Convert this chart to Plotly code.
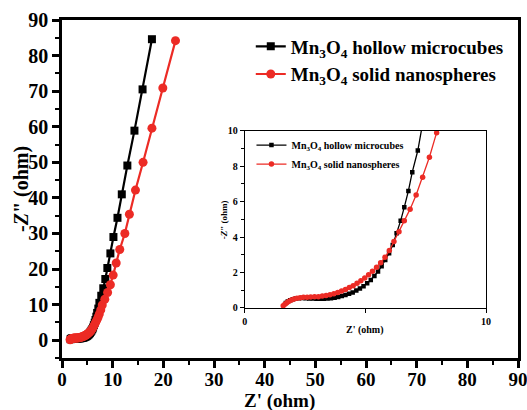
import plotly.graph_objects as go

# Mn3O4 hollow microcubes (black squares)
hollow_zre = [1.70, 1.78, 1.88, 1.99, 2.11, 2.24, 2.38, 2.52, 2.67, 2.82, 2.97, 3.12, 3.27, 3.42,
              3.57, 3.72, 3.87, 4.02, 4.17, 4.32, 4.47, 4.62, 4.77, 4.92, 5.07, 5.22, 5.37, 5.52,
              5.67, 5.82, 5.98, 6.13, 6.29, 6.46, 6.61, 6.78, 6.94, 7.17, 7.38, 7.75, 8.15, 8.55,
              8.95, 9.55, 10.15, 10.95, 11.8, 12.9, 14.3, 15.9, 17.75]
hollow_zim = [0.28, 0.36, 0.43, 0.49, 0.53, 0.55, 0.56, 0.55, 0.54, 0.53, 0.52, 0.52, 0.52, 0.53,
              0.55, 0.58, 0.62, 0.67, 0.73, 0.80, 0.88, 0.98, 1.10, 1.23, 1.39, 1.58, 1.80, 2.06,
              2.36, 2.71, 3.09, 3.56, 4.22, 4.93, 5.69, 6.61, 7.67, 8.89, 10.5, 12.5, 14.6, 17.2,
              20.3, 24.4, 29.0, 34.4, 41.0, 49.1, 58.9, 70.5, 84.6]

# Mn3O4 solid nanospheres (red circles)
solid_zre = [1.59, 1.66, 1.74, 1.83, 1.93, 2.04, 2.16, 2.29, 2.43, 2.58, 2.73, 2.89, 3.05, 3.21,
             3.37, 3.53, 3.69, 3.85, 4.01, 4.17, 4.33, 4.49, 4.65, 4.81, 4.97, 5.13, 5.29, 5.46,
             5.63, 5.81, 5.99, 6.18, 6.39, 6.61, 6.85, 7.10, 7.37, 7.65, 7.95, 8.45, 9.0, 9.55,
             10.1, 10.7, 11.4, 12.4, 13.3, 14.5, 16.0, 17.75, 19.9, 22.4]
solid_zim = [0.13, 0.21, 0.30, 0.38, 0.45, 0.50, 0.55, 0.58, 0.60, 0.61, 0.62, 0.63, 0.64, 0.67,
             0.70, 0.75, 0.81, 0.88, 0.96, 1.05, 1.15, 1.26, 1.39, 1.53, 1.69, 1.87, 2.07, 2.30,
             2.56, 2.86, 3.24, 3.75, 4.31, 4.93, 5.58, 6.38, 7.38, 8.51, 9.90, 11.5, 13.4, 15.6,
             18.3, 21.7, 25.5, 30.0, 35.4, 42.2, 50.0, 59.6, 70.9, 84.2]

series_names = ["Mn<sub>3</sub>O<sub>4</sub> hollow microcubes",
                "Mn<sub>3</sub>O<sub>4</sub> solid nanospheres"]

FONT = "Liberation Serif"
BLACK = "#000000"
RED = "#ec2b25"

fig = go.Figure()

# main traces
fig.add_trace(go.Scatter(x=hollow_zre, y=hollow_zim, mode="lines+markers", name=series_names[0],
                         line=dict(color=BLACK, width=2.2),
                         marker=dict(symbol="square", size=8, color=BLACK),
                         legend="legend", legendgroup="a"))
fig.add_trace(go.Scatter(x=solid_zre, y=solid_zim, mode="lines+markers", name=series_names[1],
                         line=dict(color=RED, width=2.2),
                         marker=dict(symbol="circle", size=9, color=RED),
                         legend="legend", legendgroup="b"))

# inset traces
fig.add_trace(go.Scatter(x=hollow_zre, y=hollow_zim, mode="lines+markers", name=series_names[0],
                         xaxis="x2", yaxis="y2",
                         line=dict(color=BLACK, width=1.3),
                         marker=dict(symbol="square", size=4.5, color=BLACK),
                         legend="legend2", legendgroup="c"))
fig.add_trace(go.Scatter(x=solid_zre, y=solid_zim, mode="lines+markers", name=series_names[1],
                         xaxis="x2", yaxis="y2",
                         line=dict(color=RED, width=1.3),
                         marker=dict(symbol="circle", size=5.5, color=RED),
                         legend="legend2", legendgroup="d"))

axis_common = dict(showline=True, linecolor=BLACK, mirror=True, showgrid=False, zeroline=False,
                   ticks="outside", tickcolor=BLACK, automargin=False, ticklabeloverflow="allow")

fig.update_layout(
    width=527, height=410,
    margin=dict(l=62, r=9, t=20, b=52),
    paper_bgcolor="white", plot_bgcolor="white",
    font=dict(family=FONT, color=BLACK, weight="bold"),
    xaxis=dict(**axis_common, range=[0, 90], dtick=10, linewidth=2.5, ticklen=7, tickwidth=2.5,
               ticklabelstandoff=-5,
               minor=dict(dtick=5, ticks="outside", ticklen=4, tickwidth=2, tickcolor=BLACK),
               tickfont=dict(family=FONT, size=19, weight="bold")),
    yaxis=dict(**axis_common, range=[-5, 90], tickvals=[0, 10, 20, 30, 40, 50, 60, 70, 80, 90],
               linewidth=2.5, ticklen=7, tickwidth=2.5,
               minor=dict(dtick=5, tick0=0, ticks="outside", ticklen=4, tickwidth=2, tickcolor=BLACK),
               tickfont=dict(family=FONT, size=20, weight="bold")),
    xaxis2=dict(**axis_common, domain=[0.401, 0.930], anchor="y2", range=[0, 10],
                tickvals=[0, 5, 10], ticktext=["0", " ", "10"], linewidth=1.3, ticklen=4,
                tickwidth=1.2, tickfont=dict(family=FONT, size=10, weight="bold")),
    yaxis2=dict(**axis_common, domain=[0.148, 0.672], anchor="x2", range=[0, 10], dtick=2,
                linewidth=1.3, ticklen=4, tickwidth=1.2,
                minor=dict(dtick=1, ticks="outside", ticklen=2.5, tickwidth=1, tickcolor=BLACK),
                tickfont=dict(family=FONT, size=10, weight="bold")),
    legend=dict(x=0.414, y=0.978, xanchor="left", yanchor="top", bgcolor="rgba(0,0,0,0)",
                font=dict(family=FONT, size=19, weight="bold", color=BLACK),
                tracegroupgap=0, borderwidth=0),
    legend2=dict(x=0.4155, y=0.673, xanchor="left", yanchor="top", bgcolor="rgba(0,0,0,0)",
                 font=dict(family=FONT, size=10, weight="bold", color=BLACK),
                 tracegroupgap=0, borderwidth=0),
    annotations=[
        dict(text="Z' (ohm)", xref="paper", yref="paper", x=0.476, y=0, xanchor="center",
             yanchor="middle", yshift=-43, showarrow=False,
             font=dict(family=FONT, size=19, weight="bold", color=BLACK)),
        dict(text="-<i>Z</i>\" (ohm)", xref="paper", yref="paper", x=0, y=0.5,
             xanchor="center", yanchor="middle", xshift=-41, textangle=-90, showarrow=False,
             font=dict(family=FONT, size=20, weight="bold", color=BLACK)),
        dict(text="Z' (ohm)", xref="x2 domain", yref="y2 domain", x=0.5, y=0, xanchor="center",
             yanchor="top", yshift=-14, showarrow=False,
             font=dict(family=FONT, size=10, weight="bold", color=BLACK)),
        dict(text="-<i>Z</i>\" (ohm)", xref="x2 domain", yref="y2 domain", x=0, y=0.5,
             xanchor="center", yanchor="middle", xshift=-20, textangle=-90, showarrow=False,
             font=dict(family=FONT, size=9, weight="bold", color=BLACK)),
    ],
)

fig.write_html("out.html")
